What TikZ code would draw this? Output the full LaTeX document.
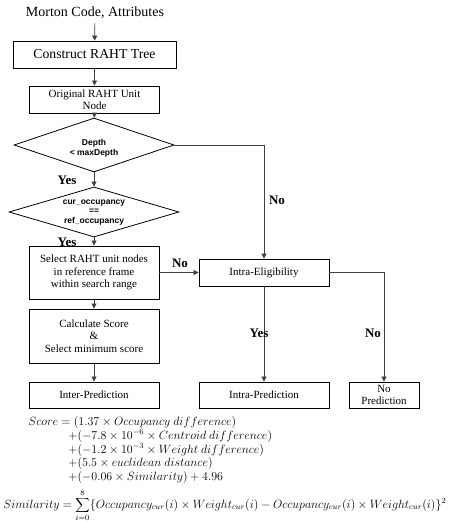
\documentclass[tikz,border=0pt]{standalone}
\usepackage{fontspec}
\setmainfont{Liberation Serif}
\newfontfamily\diafont{Liberation Sans}
\usetikzlibrary{arrows.meta,shapes.geometric}

\begin{document}
\begin{tikzpicture}[
    x = 1pt,
    y = -1pt,
    line width = 0.8pt,
    >={Triangle[length=5pt,width=5pt]},
    box/.style = {
      draw,
      rectangle,
      inner sep = 0pt,
      align = center,
      font = \fontsize{11}{12.3}\selectfont
    },
    decision/.style = {
      draw,
      diamond,
      inner sep = 0pt
    },
    diatext/.style = {
      align = center,
      inner sep = 0pt,
      font = \diafont\bfseries\fontsize{8.5}{#1}\selectfont
    },
    flow/.style = {->, draw = black!75, line width = 0.7pt},
    answer/.style = {font = \bfseries\fontsize{13}{15}\selectfont, inner sep = 1pt}
  ]
  \useasboundingbox (0,0) rectangle (461,522);

  % main column
  \node[font=\fontsize{14}{16}\selectfont] (input) at (95,13) {Morton Code, Attributes};
  \node[box, minimum width=163pt, minimum height=27pt, font=\fontsize{13.7}{15}\selectfont] (tree) at (94.5,54.5) {Construct RAHT Tree};
  \node[box, minimum width=130pt, minimum height=27pt] (unit) at (94.5,99.5) {Original RAHT Unit\\Node};
  \node[decision, minimum width=160pt, minimum height=54pt] (depth) at (94,145) {};
  \node[diatext=10] (depthtext) at (94,148) {Depth\\< maxDepth};
  \node[decision, minimum width=170pt, minimum height=50pt] (occupancy) at (94,212) {};
  \node[diatext=9.5] (occupancytext) at (94,212.5) {cur\_occupancy\\==\\ref\_occupancy};
  \node[box, minimum width=130pt, minimum height=53pt] (select) at (94,272.5) {Select RAHT unit nodes\\in reference frame\\within search range};
  \node[box, minimum width=130pt, minimum height=54pt] (calc) at (94,336) {Calculate Score\\\&\\Select minimum score};
  \node[box, minimum width=130pt, minimum height=26pt] (inter) at (94,395) {Inter-Prediction};

  % intra side
  \node[box, minimum width=130pt, minimum height=27pt] (elig) at (264,272.5) {Intra-Eligibility};
  \node[box, minimum width=130pt, minimum height=26pt] (intra) at (264,395) {Intra-Prediction};
  \node[box, minimum width=70pt, minimum height=26pt] (nopred) at (384,395) {No\\Prediction};

  \draw[flow] (input) -- (tree);
  \draw[flow] (tree) -- (unit);
  \draw[flow] (unit) -- (depth);
  \draw[flow] (depth) -- (occupancy);
  \draw[flow] (depth.east) -| (elig);
  \draw[flow] (occupancy) -- (select);
  \draw[flow] (select) -- (elig);
  \draw[flow] (select) -- (calc);
  \draw[flow] (calc) -- (inter);
  \draw[flow] (elig) -- (intra);
  \draw[flow] (elig.east) -| (nopred);

  \node[answer] (yesdepth) at (67,180) {Yes};
  \node[answer] (yesocc) at (67,242) {Yes};
  \node[answer] (nodepth) at (277,200) {No};
  \node[answer] (noocc) at (180,263) {No};
  \node[answer] (yeselig) at (259,333) {Yes};
  \node[answer] (noelig) at (373,333) {No};

  % formulas
  \node[anchor=west, align=left, inner sep=0pt, font=\fontsize{12}{13.75}\selectfont] (score) at (28,450) {%
    $Score = (1.37 \times Occupancy\ difference)$\\
    \hspace*{40pt}$+(-7.8 \times 10^{-6} \times Centroid\ difference)$\\
    \hspace*{40pt}$+(-1.2 \times 10^{-3} \times Weight\ difference)$\\
    \hspace*{40pt}$+(5.5 \times euclidean\ distance)$\\
    \hspace*{40pt}$+(-0.06 \times Similarity) + 4.96$};
  \node[anchor=west, inner sep=0pt, font=\fontsize{11.8}{14}\selectfont] (similarity) at (3,505) {%
    $\displaystyle Similarity = \sum_{i=0}^{8}\{Occupancy_{cur}(i) \times Weight_{cur}(i) - Occupancy_{cur}(i) \times Weight_{cur}(i)\}^2$};

\end{tikzpicture}
\end{document}
